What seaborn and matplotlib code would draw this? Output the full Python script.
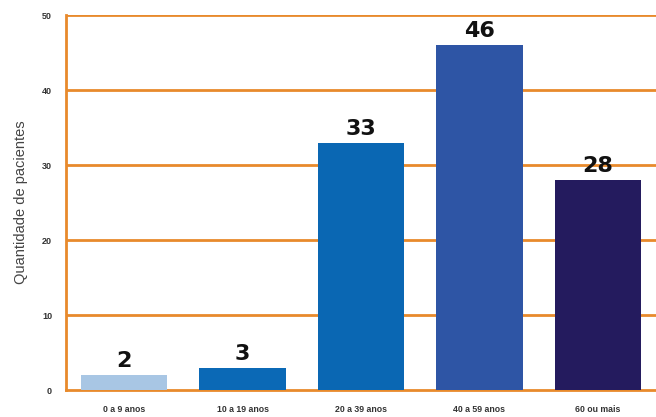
import matplotlib
matplotlib.use('Agg')
import matplotlib.pyplot as plt
import seaborn as sns
import pandas as pd

# Dados do gráfico
faixas = ['0 a 9 anos', '10 a 19 anos', '20 a 39 anos', '40 a 59 anos', '60 ou mais']
pacientes = [2, 3, 33, 46, 28]
cores = ['#a8c6e4', '#0b69b6', '#0a67b3', '#2e55a5', '#241b5e']
y_ticks = [0, 10, 20, 30, 40, 50]

df = pd.DataFrame({'Faixa': faixas, 'Pacientes': pacientes})

sns.set_style('white')
plt.rcParams['font.family'] = ['Liberation Sans', 'DejaVu Sans']

laranja = '#e88a2c'

fig = plt.figure(figsize=(6.56, 4.17), dpi=100)
ax = fig.add_axes([0.1006, 0.0647, 0.8994, 0.8993])

sns.barplot(x='Faixa', y='Pacientes', data=df, hue='Faixa', palette=cores,
            legend=False, width=0.73, ax=ax, zorder=3, saturation=1, linewidth=0)

# Linhas de grade laranja
for v in y_ticks[1:]:
    ax.axhline(v, color=laranja, lw=2, zorder=1)

ax.set_ylim(0, 50)
ax.set_xlim(-0.49, 4.49)
ax.set_yticks(y_ticks)
ax.set_yticklabels([str(v) for v in y_ticks], fontsize=6.5, fontweight='bold', color='#333333')
ax.set_xticks(range(len(faixas)))
ax.set_xticklabels(faixas, fontsize=6.3, fontweight='bold', color='#333333')
ax.tick_params(axis='both', length=0)
ax.tick_params(axis='y', pad=10)
ax.tick_params(axis='x', pad=11)

ax.set_xlabel('')
ax.set_ylabel('Quantidade de pacientes', fontsize=10.5, color='#444444', labelpad=10)

for s in ['top', 'right']:
    ax.spines[s].set_visible(False)
for s in ['left', 'bottom']:
    ax.spines[s].set_color(laranja)
    ax.spines[s].set_linewidth(2)

# Valores acima das barras
for i, v in enumerate(pacientes):
    ax.text(i, v + 0.5, str(v), ha='center', va='bottom', fontsize=16,
            fontweight='bold', color='#111111', family=['DejaVu Sans'], zorder=4)

plt.savefig('out.png', dpi=100)
plt.close()
